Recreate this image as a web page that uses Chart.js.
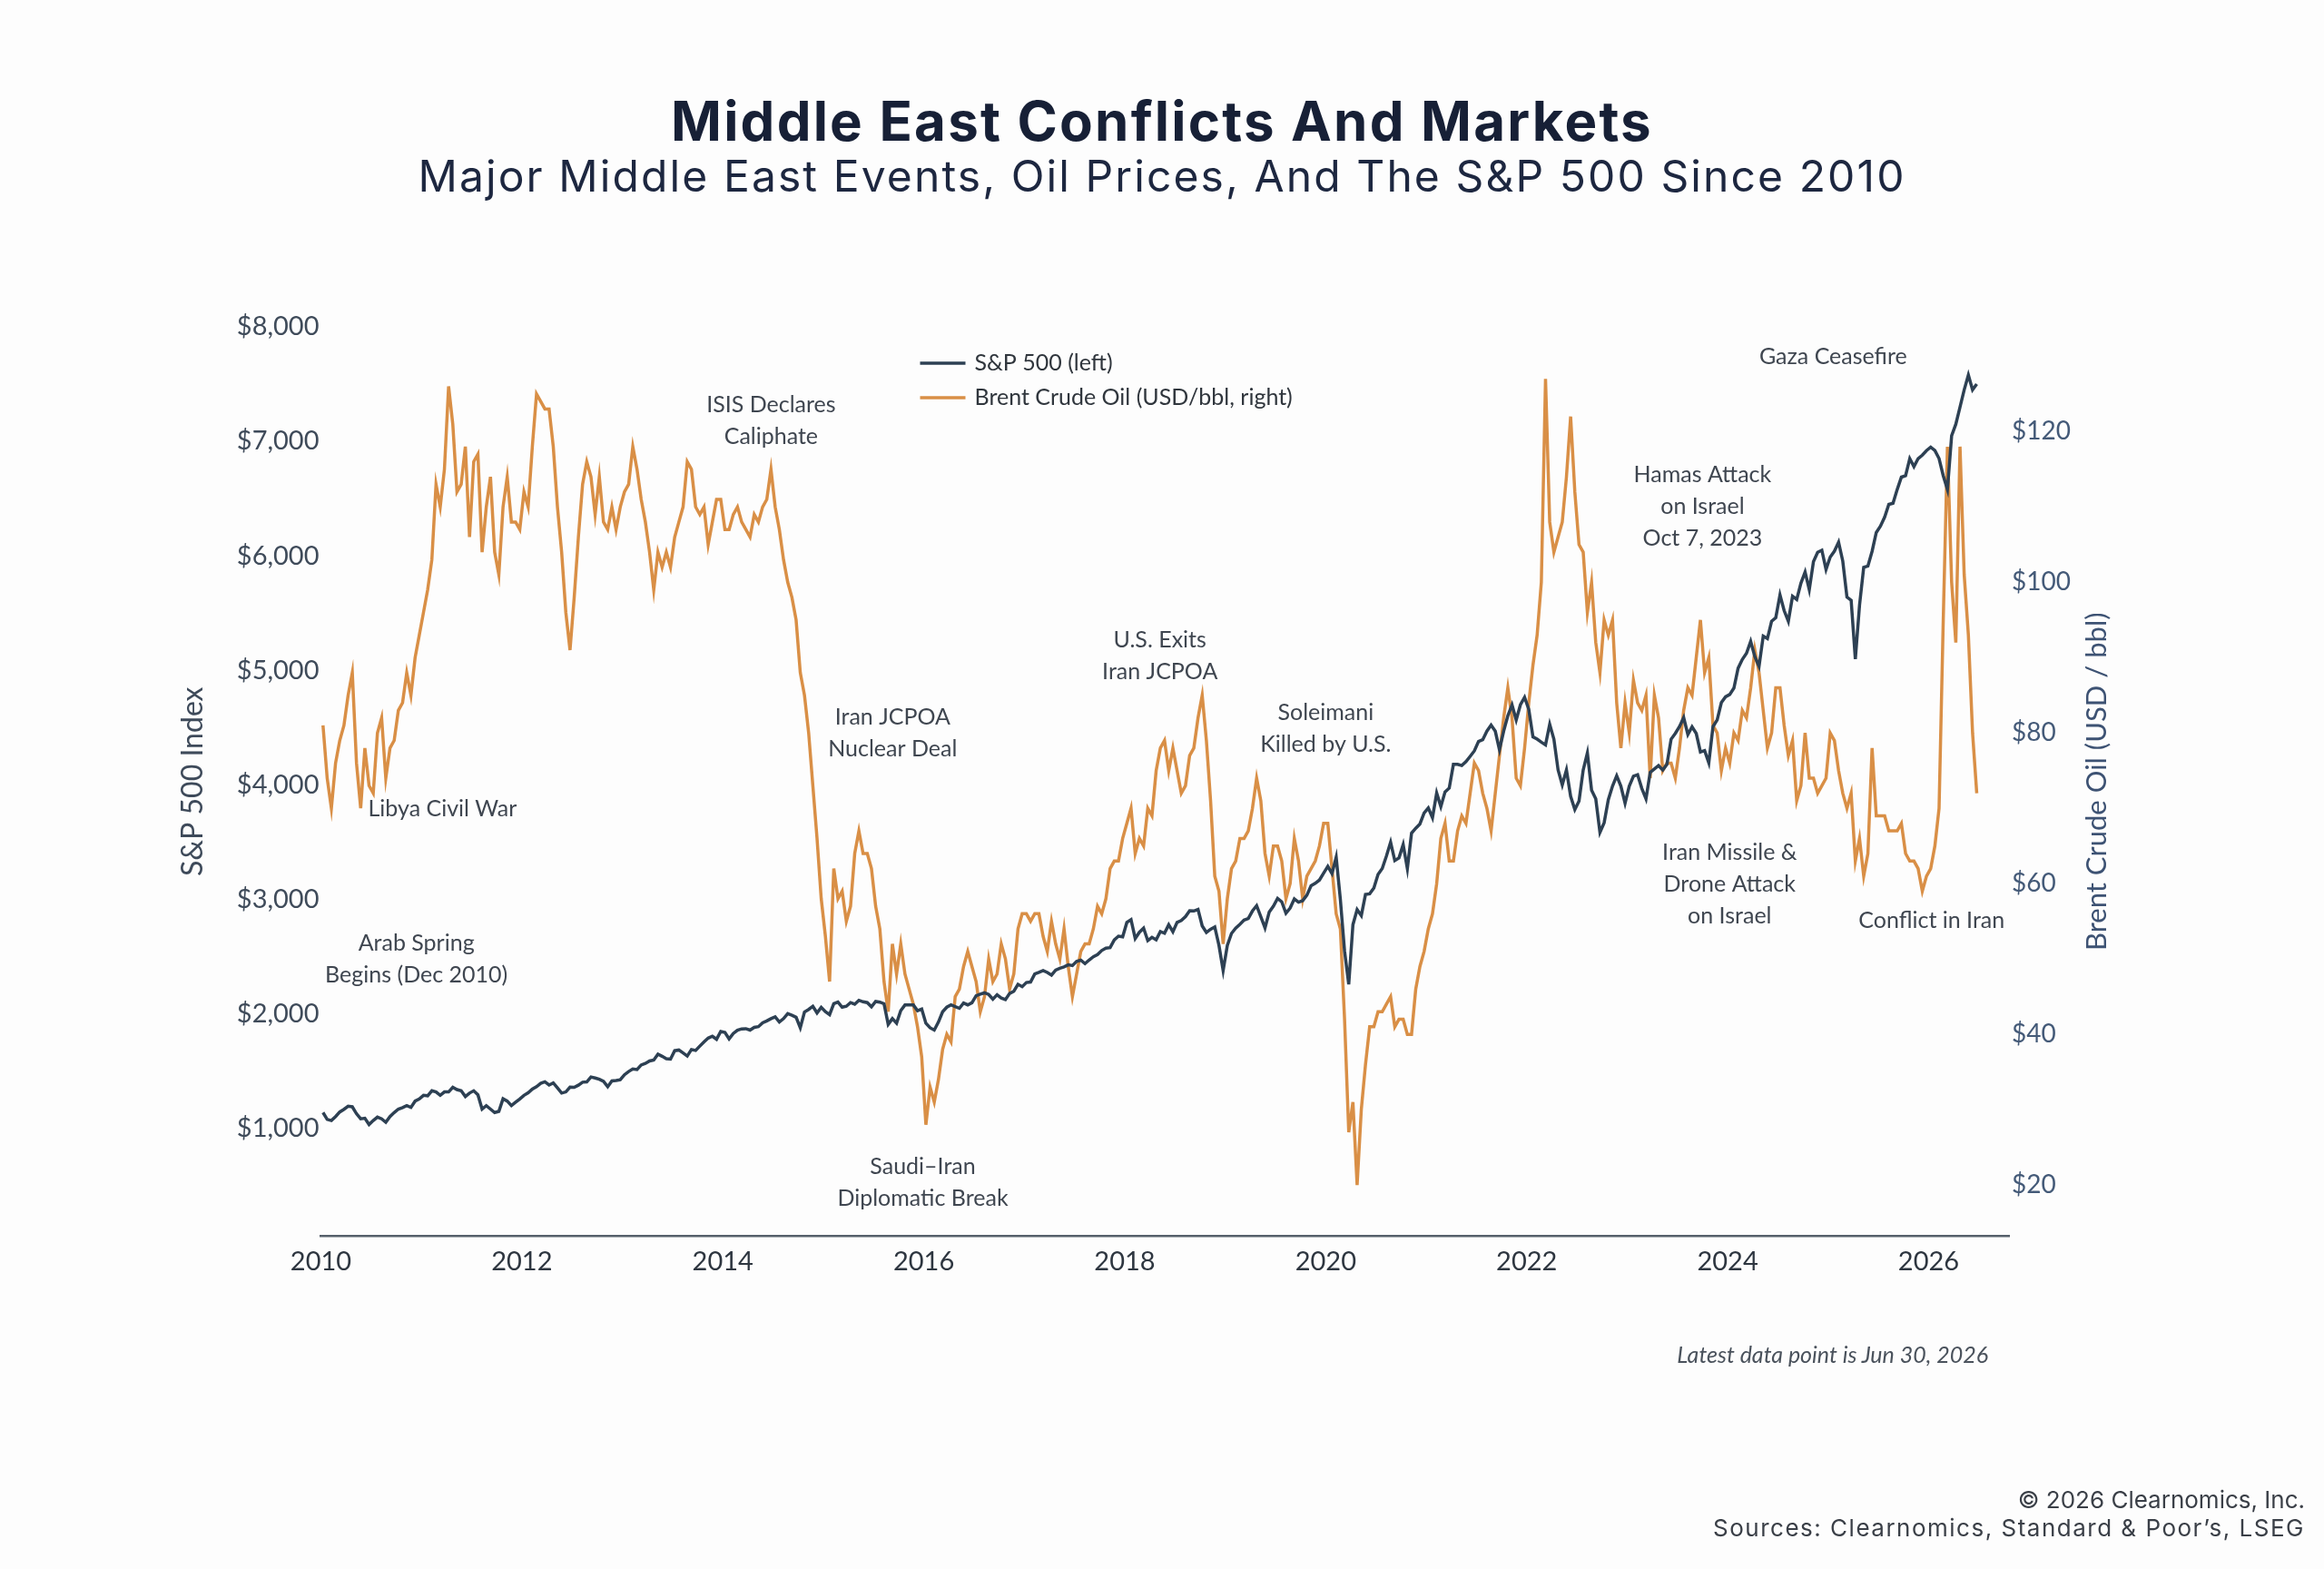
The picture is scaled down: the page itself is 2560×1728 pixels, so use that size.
<!DOCTYPE html>
<html lang="en">
<head>
<meta charset="UTF-8">
<title>Middle East Conflicts And Markets</title>
<script src="https://cdn.jsdelivr.net/npm/chart.js"></script>
<style>
  body { margin: 0; background: #fdfdfd; }
  .page { position: relative; width: 2560px; height: 1728px; overflow: hidden; font-family: Inter, sans-serif; }
  #chart { position: absolute; left: 0; top: 0; }
  .head { position: absolute; left: 0; width: 2560px; text-align: center; line-height: 1; color: #172036; white-space: nowrap; }
  .main { top: 103px; font-size: 60px; font-weight: 700; letter-spacing: 2.2px; }
  .sub { top: 170px; font-size: 48px; font-weight: 400; letter-spacing: 2.1px; color: #1d2740; }
  .note { position: absolute; right: 370px; top: 1479px; font: italic 25px Lato, sans-serif; color: #4a525c; line-height: 1; }
  .foot { position: absolute; right: 21px; font-size: 26px; color: #3a3f47; line-height: 1; white-space: nowrap; }
</style>
</head>
<body>
<div class="page">
  <canvas id="chart" width="2560" height="1728"></canvas>
  <div class="head main">Middle East Conflicts And Markets</div>
  <div class="head sub">Major Middle East Events, Oil Prices, And The S&amp;P 500 Since 2010</div>
  <div class="note">Latest data point is Jun 30, 2026</div>
  <div class="foot" style="top:1639px">© 2026 Clearnomics, Inc.</div>
  <div class="foot" style="top:1670px; letter-spacing:1.5px">Sources: Clearnomics, Standard &amp; Poor’s, LSEG</div>
</div>

<script>
// half-month readings, Jan 2010 .. Jun 2026 (2 per month)
const firstYear = 2010;
const perYear = 24;

// S&P 500 index level (left axis)
const sp500 = [
  1140, 1080, 1070, 1105, 1145, 1168, 1195, 1190, 1130, 1085, 1090, 1035, 1070, 1100, 1085, 1055, 1105, 1140, 1170, 1183, 1200, 1185, 1240, 1258, // 2010
  1290, 1286, 1330, 1320, 1290, 1320, 1320, 1360, 1340, 1330, 1280, 1310, 1330, 1295, 1170, 1200, 1170, 1140, 1150, 1260, 1240, 1200, 1230, 1258, // 2011
  1290, 1312, 1345, 1366, 1395, 1408, 1380, 1398, 1355, 1310, 1320, 1362, 1360, 1379, 1405, 1407, 1450, 1441, 1430, 1412, 1365, 1416, 1420, 1426, // 2012
  1470, 1498, 1520, 1515, 1555, 1569, 1590, 1598, 1650, 1631, 1610, 1606, 1680, 1686, 1660, 1633, 1690, 1682, 1720, 1757, 1790, 1806, 1780, 1848, // 2013
  1840, 1783, 1830, 1859, 1870, 1872, 1860, 1884, 1890, 1924, 1940, 1960, 1975, 1931, 1960, 2003, 1990, 1972, 1880, 2018, 2040, 2068, 2010, 2059, // 2014
  2020, 1995, 2090, 2105, 2060, 2068, 2100, 2086, 2120, 2107, 2100, 2063, 2110, 2104, 2090, 1910, 1960, 1920, 2030, 2079, 2080, 2080, 2030, 2044, // 2015
  1920, 1880, 1860, 1930, 2020, 2060, 2080, 2065, 2050, 2097, 2080, 2099, 2160, 2174, 2185, 2171, 2130, 2168, 2140, 2126, 2180, 2199, 2260, 2239, // 2016
  2275, 2279, 2350, 2364, 2380, 2363, 2340, 2384, 2400, 2412, 2430, 2423, 2460, 2470, 2440, 2472, 2500, 2519, 2555, 2575, 2580, 2648, 2680, 2674, // 2017
  2800, 2824, 2660, 2714, 2750, 2641, 2670, 2648, 2720, 2705, 2780, 2718, 2800, 2816, 2850, 2902, 2900, 2914, 2770, 2712, 2740, 2760, 2600, 2380, // 2018
  2600, 2704, 2750, 2784, 2820, 2834, 2900, 2946, 2850, 2752, 2890, 2942, 3010, 2980, 2880, 2926, 3005, 2977, 2990, 3038, 3120, 3141, 3170, 3231, // 2019
  3290, 3226, 3370, 3000, 2550, 2260, 2780, 2912, 2860, 3044, 3050, 3100, 3220, 3271, 3380, 3500, 3340, 3363, 3480, 3270, 3580, 3622, 3660, 3756, // 2020
  3800, 3714, 3930, 3811, 3940, 3973, 4180, 4181, 4170, 4204, 4250, 4298, 4380, 4395, 4470, 4523, 4470, 4308, 4470, 4605, 4700, 4567, 4700, 4766, // 2021
  4660, 4420, 4400, 4374, 4350, 4530, 4400, 4132, 4000, 4132, 3900, 3785, 3860, 4130, 4280, 3955, 3880, 3586, 3670, 3872, 3990, 4080, 3990, 3840, // 2022
  3990, 4077, 4090, 3970, 3880, 4109, 4140, 4169, 4130, 4180, 4400, 4450, 4510, 4589, 4440, 4508, 4450, 4288, 4300, 4194, 4510, 4568, 4720, 4770, // 2023
  4790, 4846, 5020, 5096, 5150, 5254, 5120, 5036, 5300, 5278, 5430, 5460, 5660, 5522, 5430, 5648, 5620, 5762, 5860, 5705, 5950, 6032, 6050, 5882, // 2024
  5990, 6041, 6120, 5955, 5640, 5612, 5100, 5569, 5900, 5912, 6040, 6205, 6260, 6339, 6450, 6460, 6580, 6688, 6700, 6850, 6780, 6850, 6880, 6920, // 2025
  6950, 6920, 6850, 6700, 6580, 7050, 7150, 7300, 7450, 7580, 7450, 7500                                                                          // 2026
];

// Brent crude, USD/bbl (right axis)
const brent = [
  81, 74, 70, 76, 79, 81, 85, 88, 76, 70, 78, 73, 72, 80, 82, 74, 78, 79, 83, 84, 88, 85, 90, 93,             // 2010
  96, 99, 103, 113, 110, 115, 126, 121, 112, 113, 118, 106, 116, 117, 104, 110, 114, 104, 101, 110, 114, 108, 108, 107, // 2011
  112, 110, 118, 125, 124, 123, 123, 118, 110, 104, 96, 91, 98, 106, 113, 116, 114, 109, 114, 108, 107, 110, 107, 110, // 2012
  112, 113, 118, 115, 111, 108, 104, 99, 104, 102, 104, 102, 106, 108, 110, 116, 115, 110, 109, 110, 105, 108, 111, 111, // 2013
  107, 107, 109, 110, 108, 107, 106, 109, 108, 110, 111, 115, 110, 107, 103, 100, 98, 95, 88, 85, 80, 73, 66, 58,     // 2014
  53, 47, 62, 58, 59, 55, 57, 64, 67, 64, 64, 62, 57, 54, 47, 43, 52, 48, 52, 48, 46, 44, 41, 37,             // 2015
  28, 33, 31, 34, 38, 40, 39, 45, 46, 49, 51, 49, 47, 43, 45, 50, 47, 48, 52, 50, 46, 48, 54, 56,             // 2016
  56, 55, 56, 56, 53, 51, 55, 52, 50, 54, 49, 45, 48, 51, 52, 52, 54, 57, 56, 58, 62, 63, 63, 66,             // 2017
  68, 70, 64, 66, 65, 70, 69, 75, 78, 79, 75, 78, 75, 72, 73, 77, 78, 82, 85, 79, 71, 61, 59, 52,             // 2018
  58, 62, 63, 66, 66, 67, 70, 74, 71, 64, 61, 65, 65, 63, 58, 60, 66, 63, 58, 61, 62, 63, 65, 68,             // 2019
  68, 62, 56, 54, 42, 27, 31, 20, 30, 36, 41, 41, 43, 43, 44, 45, 41, 42, 42, 40, 40, 46, 49, 51,             // 2020
  54, 56, 60, 66, 68, 63, 63, 67, 69, 68, 72, 76, 75, 72, 70, 67, 72, 77, 82, 86, 82, 74, 73, 78,             // 2021
  84, 89, 93, 100, 127, 108, 104, 106, 108, 114, 122, 112, 105, 104, 96, 100, 92, 88, 95, 93, 95, 84, 78, 84, // 2022
  80, 87, 84, 83, 85, 74, 85, 82, 75, 76, 76, 74, 78, 83, 86, 85, 90, 95, 88, 90, 81, 80, 75, 78,             // 2023
  76, 80, 79, 83, 82, 86, 91, 88, 83, 78, 80, 86, 86, 81, 77, 79, 71, 73, 80, 74, 74, 72, 73, 74,             // 2024
  80, 79, 75, 72, 70, 72, 63, 66, 61, 64, 78, 69, 69, 69, 67, 67, 67, 68, 64, 63, 63, 62, 59, 61,             // 2025
  62, 65, 70, 95, 118, 100, 92, 118, 101, 93, 80, 72                                                         // 2026
];

const yearTicks = [2010, 2012, 2014, 2016, 2018, 2020, 2022, 2024, 2026];
const spTicks = [1000, 2000, 3000, 4000, 5000, 6000, 7000, 8000];
const oilTicks = [20, 40, 60, 80, 100, 120];

// event labels, placed at (year, S&P level)
const events = [
  { lines: ['ISIS Declares', 'Caliphate'], year: 2014.48, level: 7177 },
  { lines: ['Libya Civil War'], year: 2011.21, level: 3793 },
  { lines: ['Arab Spring', 'Begins (Dec 2010)'], year: 2010.95, level: 2481 },
  { lines: ['Iran JCPOA', 'Nuclear Deal'], year: 2015.69, level: 4451 },
  { lines: ['Saudi–Iran', 'Diplomatic Break'], year: 2015.99, level: 527 },
  { lines: ['U.S. Exits', 'Iran JCPOA'], year: 2018.35, level: 5124 },
  { lines: ['Soleimani', 'Killed by U.S.'], year: 2020.0, level: 4490 },
  { lines: ['Hamas Attack', 'on Israel', 'Oct 7, 2023'], year: 2023.75, level: 6432 },
  { lines: ['Gaza Ceasefire'], year: 2025.05, level: 7740 },
  { lines: ['Iran Missile &', 'Drone Attack', 'on Israel'], year: 2024.02, level: 3135 },
  { lines: ['Conflict in Iran'], year: 2026.03, level: 2818 }
];

function toPoints(vals) {
  return vals.map((v, i) => ({ x: firstYear + (i + 0.5) / perYear, y: v }));
}

const money = v => '$' + Number(v).toLocaleString('en-US');

// labels, legend and rotated axis titles
const overlay = {
  id: 'overlay',
  afterDatasetsDraw(chart) {
    const { ctx, chartArea, scales } = chart;
    ctx.save();

    ctx.font = '25px Lato';
    ctx.fillStyle = '#3f4650';
    ctx.textAlign = 'center';
    ctx.textBaseline = 'middle';
    const lh = 35;
    events.forEach(ev => {
      const x = scales.x.getPixelForValue(ev.year);
      const y = scales.y.getPixelForValue(ev.level);
      const top = y - (ev.lines.length - 1) * lh / 2;
      ev.lines.forEach((t, i) => ctx.fillText(t, x, top + i * lh));
    });

    // legend
    const lx = chartArea.left + 660;
    const ly = chartArea.top + 40;
    chart.data.datasets.forEach((ds, i) => {
      const y = ly + i * 38;
      ctx.strokeStyle = ds.borderColor;
      ctx.lineWidth = 3.5;
      ctx.beginPath();
      ctx.moveTo(lx, y);
      ctx.lineTo(lx + 50, y);
      ctx.stroke();
      ctx.textAlign = 'left';
      ctx.fillStyle = '#30363d';
      ctx.fillText(ds.label, lx + 60, y);
    });

    // axis titles, both read bottom to top
    const cy = (chartArea.top + chartArea.bottom) / 2;
    ctx.textAlign = 'center';
    ctx.font = '32px Lato';
    ctx.fillStyle = '#3e4a5a';
    ctx.save();
    ctx.translate(chartArea.left - 141, cy);
    ctx.rotate(-Math.PI / 2);
    ctx.fillText('S&P 500 Index', 0, 0);
    ctx.restore();

    ctx.font = '31px Lato';
    ctx.fillStyle = '#3d5273';
    ctx.save();
    ctx.translate(chartArea.right + 97, cy);
    ctx.rotate(-Math.PI / 2);
    ctx.fillText('Brent Crude Oil (USD / bbl)', 0, 0);
    ctx.restore();

    ctx.restore();
  }
};

new Chart(document.getElementById('chart'), {
  type: 'line',
  data: {
    datasets: [
      {
        label: 'S&P 500 (left)',
        data: toPoints(sp500),
        yAxisID: 'y',
        borderColor: '#2d4053',
        borderWidth: 3.5
      },
      {
        label: 'Brent Crude Oil (USD/bbl, right)',
        data: toPoints(brent),
        yAxisID: 'y1',
        borderColor: '#d98f46',
        borderWidth: 3.5
      }
    ]
  },
  options: {
    responsive: false,
    animation: false,
    elements: { point: { radius: 0 }, line: { tension: 0 } },
    layout: { padding: { left: 233.5, right: 257, top: 360, bottom: 306.5 } },
    plugins: { legend: { display: false }, tooltip: { enabled: false } },
    scales: {
      x: {
        type: 'linear',
        min: 2010,
        max: 2026.8,
        grid: { display: false, drawTicks: false },
        border: { display: true, color: '#56606b', width: 2.5 },
        afterBuildTicks: a => { a.ticks = yearTicks.map(v => ({ value: v })); },
        afterFit: s => { s.height = 60; },
        ticks: {
          padding: 11,
          color: '#2e3640',
          maxRotation: 0,
          autoSkip: false,
          font: { family: 'Lato', size: 29 },
          callback: v => String(v)
        }
      },
      y: {
        position: 'left',
        min: 60,
        max: 8000,
        grid: { display: false, drawTicks: false },
        border: { display: false },
        afterBuildTicks: a => { a.ticks = spTicks.map(v => ({ value: v })); },
        afterFit: s => { s.width = 120; },
        ticks: { padding: 2, color: '#3f4b5a', font: { family: 'Lato', size: 29 }, callback: money }
      },
      y1: {
        position: 'right',
        min: 13.2,
        max: 133.9,
        grid: { display: false, drawTicks: false },
        border: { display: false },
        afterBuildTicks: a => { a.ticks = oilTicks.map(v => ({ value: v })); },
        afterFit: s => { s.width = 90; },
        ticks: { padding: 3, color: '#445a78', font: { family: 'Lato', size: 28 }, callback: money }
      }
    }
  },
  plugins: [overlay]
});
</script>
</body>
</html>
